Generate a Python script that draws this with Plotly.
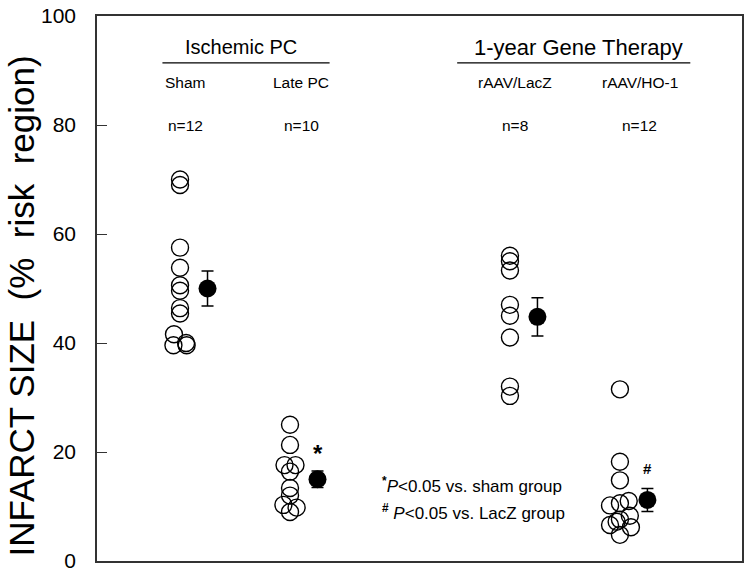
import plotly.graph_objects as go

# ---- data ----
groups = ["Sham", "Late PC", "rAAV/LacZ", "rAAV/HO-1"]
n_labels = ["n=12", "n=10", "n=8", "n=12"]
group_pos = [1, 2, 4, 5]

sham_vals = [70.0, 69.0, 57.5, 53.8, 50.6, 49.6, 46.4, 45.4, 41.6, 39.6, 40.0, 39.6]
sham_dx = [0, 0, 0, 0, 0, 0, 0, 0, -0.055, -0.06, 0.055, 0.06]

late_vals = [25.0, 21.3, 17.6, 17.6, 16.4, 13.4, 12.0, 10.3, 9.8, 9.0]
late_dx = [0, 0, -0.05, 0.05, 0, 0, 0, -0.06, 0.06, 0]

lacz_vals = [56.0, 55.0, 53.3, 47.0, 45.0, 41.0, 32.0, 30.3]
lacz_dx = [0, 0, 0, 0, 0, 0, 0, 0]

ho1_vals = [31.5, 18.2, 14.8, 11.0, 10.2, 10.6, 8.3, 7.6, 6.6, 6.2, 7.2, 4.8]
ho1_dx = [0, 0, 0, 0.08, -0.09, 0, 0.09, 0, -0.09, 0.1, -0.03, 0]

means = [50.0, 15.0, 44.8, 11.2]
sems = [3.2, 1.5, 3.5, 2.1]

all_vals = [sham_vals, late_vals, lacz_vals, ho1_vals]
all_dx = [sham_dx, late_dx, lacz_dx, ho1_dx]

FONT = "Liberation Sans, Arial, sans-serif"

fig = go.Figure()

for pos, vals, dxs in zip(group_pos, all_vals, all_dx):
    fig.add_trace(go.Scatter(
        x=[pos + d for d in dxs], y=vals, mode="markers",
        marker=dict(symbol="circle-open", size=17, color="black",
                    line=dict(width=1.4, color="black")),
        showlegend=False, hoverinfo="y"))

fig.add_trace(go.Scatter(
    x=[p + 0.25 for p in group_pos], y=means, mode="markers",
    marker=dict(symbol="circle", size=18, color="black"),
    error_y=dict(type="data", array=sems, visible=True, color="black",
                 thickness=1.5, width=6),
    showlegend=False))

annotations = []
# y-axis title
annotations.append(dict(
    text="INFARCT SIZE  (%  risk  region)", xref="paper", yref="paper",
    x=-0.117, y=0.468, textangle=-90, showarrow=False,
    font=dict(size=35, family=FONT, color="black"),
    xanchor="center", yanchor="middle"))

# group headers
annotations.append(dict(text="Ischemic PC", x=1.55, y=94.3, xref="x", yref="y",
                        showarrow=False, font=dict(size=20, family=FONT, color="black")))
annotations.append(dict(text="1-year Gene Therapy", x=4.62, y=94.3, xref="x", yref="y",
                        showarrow=False, font=dict(size=22, family=FONT, color="black")))

label_x = [1.05, 2.1, 4.05, 5.18]
for lx, g, nl in zip(label_x, groups, n_labels):
    annotations.append(dict(text=g, x=lx, y=87.8, xref="x", yref="y", showarrow=False,
                            font=dict(size=15.5, family=FONT, color="black")))
    annotations.append(dict(text=nl, x=lx, y=80.0, xref="x", yref="y", showarrow=False,
                            font=dict(size=15.5, family=FONT, color="black")))

# significance marks
annotations.append(dict(text="<b>*</b>", x=2.25, y=19.8, xref="x", yref="y", showarrow=False,
                        font=dict(size=24, family=FONT, color="black")))
annotations.append(dict(text="<b>#</b>", x=5.25, y=17.0, xref="x", yref="y", showarrow=False,
                        font=dict(size=15, family=FONT, color="black")))

# legend notes
annotations.append(dict(text="<sup><b>*</b></sup><i>P</i>&lt;0.05 vs. sham group",
                        x=2.82, y=14.0, xref="x", yref="y", showarrow=False,
                        xanchor="left", font=dict(size=17, family=FONT, color="black")))
annotations.append(dict(text="<sup><b>#</b></sup> <i>P</i>&lt;0.05 vs. LacZ group",
                        x=2.82, y=9.0, xref="x", yref="y", showarrow=False,
                        xanchor="left", font=dict(size=17, family=FONT, color="black")))

shapes = [
    dict(type="line", xref="x", yref="y", x0=0.84, x1=2.36, y0=91.4, y1=91.4,
         line=dict(color="black", width=1.2)),
    dict(type="line", xref="x", yref="y", x0=3.52, x1=5.64, y0=91.4, y1=91.4,
         line=dict(color="black", width=1.2)),
]

fig.update_layout(
    width=750, height=575,
    margin=dict(l=97, r=8, t=16, b=14, autoexpand=False),
    paper_bgcolor="white", plot_bgcolor="white",
    font=dict(family=FONT, color="black"),
    annotations=annotations, shapes=shapes,
    xaxis=dict(range=[0.245, 6.11], showticklabels=False, ticks="",
               showgrid=False, zeroline=False, showline=True, mirror=True,
               linecolor="#333", linewidth=1.5),
    yaxis=dict(range=[0, 100], tickvals=[0, 20, 40, 60, 80, 100],
               ticks="inside", ticklen=10, tickwidth=1.2, tickcolor="#333",
               tickfont=dict(size=21, family=FONT, color="black"),
               ticklabelstandoff=15,
               showgrid=False, zeroline=False, showline=True, mirror=True,
               linecolor="#333", linewidth=1.5),
)

fig.write_html("out.html", config={"displayModeBar": False},
               post_script="document.body.style.margin='0';document.body.style.overflow='hidden';")
